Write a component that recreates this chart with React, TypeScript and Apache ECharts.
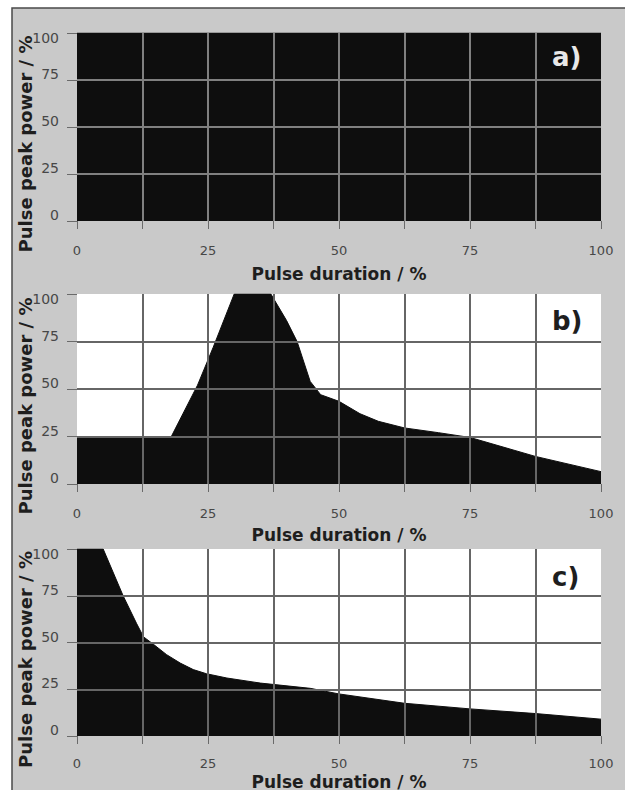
import React, { useEffect, useRef } from "react";
import * as echarts from "echarts";

const panelLabels = ["a)", "b)", "c)"];
const xAxisTitle = "Pulse duration / %";
const yAxisTitle = "Pulse peak power / %";
const xLabelValues = [0, 25, 50, 75, 100];

// [pulse duration %, pulse peak power %]
const seriesA: [number, number][] = [
  [0, 100],
  [100, 100],
];
const seriesB: [number, number][] = [
  [0, 25], [18, 25], [23, 52], [26, 72], [30, 100], [37, 100], [40, 86],
  [42, 75], [44.5, 54], [46.5, 47], [50, 43.5], [54, 37], [57.5, 33],
  [62.5, 29.5], [69, 27], [75, 24.5], [87.5, 14.5], [100, 6.5],
];
const seriesC: [number, number][] = [
  [0, 100], [5, 100], [8.8, 75], [11.4, 60], [12.7, 53], [14.6, 49],
  [17.1, 43.5], [19.7, 39], [22.2, 35.5], [24.7, 33.3], [28.6, 31],
  [35, 28.3], [44.5, 25.5], [50, 22.5], [62.5, 17.5], [75, 14.5],
  [87.5, 12], [100, 9],
];

const panels = [
  { data: seriesA, top: 33, height: 188, labelY: 44, xNameGap: 44, xLabelMargin: 22, bg: "#0e0e0e", grid: "#808080", labelColor: "#e8e8e8" },
  { data: seriesB, top: 294, height: 190, labelY: 308, xNameGap: 42, xLabelMargin: 22, bg: "#ffffff", grid: "#666666", labelColor: "#1e1e1e" },
  { data: seriesC, top: 549, height: 187, labelY: 564, xNameGap: 37, xLabelMargin: 20, bg: "#ffffff", grid: "#666666", labelColor: "#1e1e1e" },
];

export default function App() {
  const ref = useRef<HTMLDivElement>(null);
  useEffect(() => {
    document.body.style.margin = "0";
    if (!ref.current) return;
    const chart = echarts.init(ref.current, null, { renderer: "svg" });
    const font = "DejaVu Sans";
    const option: any = {
      animation: false,
      backgroundColor: "#ffffff",
      graphic: [
        {
          type: "rect",
          z: -10,
          silent: true,
          shape: { x: 12, y: 8, width: 640, height: 820 },
          style: { fill: "#c9c9c9", stroke: "#4a4a4a", lineWidth: 1.5 },
        },
      ],
      title: panels.map((p, i) => ({
        text: panelLabels[i],
        left: 552,
        top: p.labelY,
        padding: 0,
        textStyle: { fontFamily: font, fontWeight: "bold", fontSize: 26, color: p.labelColor },
      })),
      grid: panels.map((p) => ({
        left: 77,
        width: 524,
        top: p.top,
        height: p.height,
        show: true,
        z: -5,
        backgroundColor: p.bg,
        borderWidth: 0,
        containLabel: false,
        outerBoundsMode: "none",
      })),
      xAxis: panels.map((p, i) => ({
        type: "value",
        gridIndex: i,
        min: 0,
        max: 100,
        interval: 12.5,
        name: xAxisTitle,
        nameLocation: "middle",
        nameGap: p.xNameGap,
        nameMoveOverlap: false,
        nameTextStyle: { fontFamily: font, fontWeight: "bold", fontSize: 17, lineHeight: 17, color: "#1e1e1e" },
        axisLine: { show: false },
        axisTick: { show: true, length: 8, lineStyle: { color: "#6a6a6a", width: 1 } },
        axisLabel: {
          margin: p.xLabelMargin,
          fontFamily: font,
          fontSize: 13,
          lineHeight: 14,
          color: "#474747",
          formatter: (v: number) => (xLabelValues.includes(v) ? String(v) : ""),
        },
        splitLine: {
          show: true,
          showMinLine: false,
          showMaxLine: false,
          lineStyle: { color: p.grid, width: 2 },
        },
      })),
      yAxis: panels.map((p, i) => ({
        type: "value",
        gridIndex: i,
        min: 0,
        max: 100,
        interval: 25,
        name: yAxisTitle,
        nameLocation: "middle",
        nameGap: 43,
        nameMoveOverlap: false,
        nameTextStyle: {
          fontFamily: font,
          fontWeight: "bold",
          fontSize: 18,
          color: "#1e1e1e",
          padding: [0, 34, 0, 0],
        },
        axisLine: { show: false },
        axisTick: { show: true, length: 10, lineStyle: { color: "#6a6a6a", width: 1 } },
        axisLabel: {
          margin: 18,
          fontFamily: font,
          fontSize: 14,
          color: "#474747",
          formatter: (v: number) => (v === 100 ? `{t|${v}}` : `{n|${v}}`),
          rich: {
            t: { fontFamily: font, fontSize: 14, color: "#474747", padding: [10, 0, 0, 0] },
            n: { fontFamily: font, fontSize: 14, color: "#474747", padding: [0, 0, 12, 0] },
          },
        },
        splitLine: {
          show: true,
          showMinLine: false,
          showMaxLine: false,
          lineStyle: { color: p.grid, width: 2 },
        },
      })),
      series: panels.map((p, i) => ({
        type: "line",
        xAxisIndex: i,
        yAxisIndex: i,
        z: -1,
        data: p.data,
        showSymbol: false,
        symbol: "none",
        lineStyle: { color: "#0e0e0e", width: 1 },
        areaStyle: { color: "#0e0e0e", opacity: 1 },
      })),
    };
    chart.setOption(option);
    return () => chart.dispose();
  }, []);
  return <div ref={ref} style={{ width: 625, height: 790 }} />;
}
